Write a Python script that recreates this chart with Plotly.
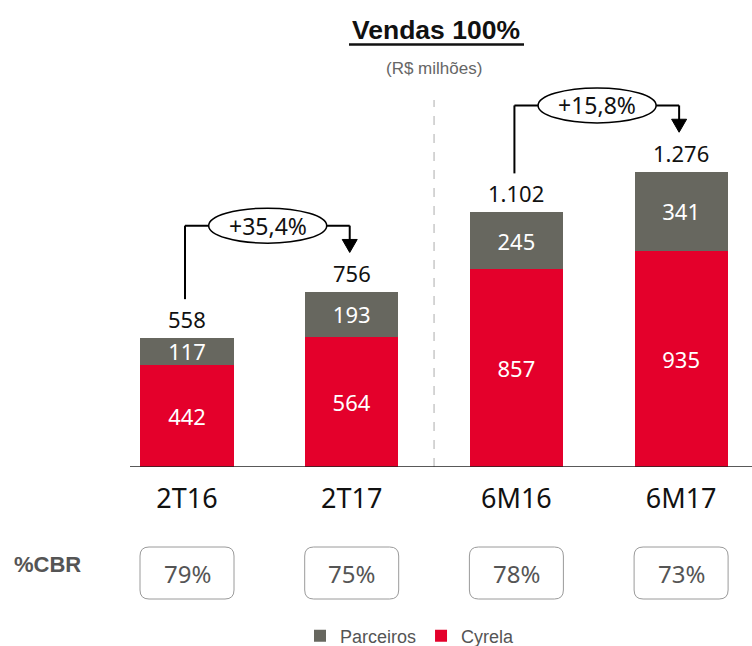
import plotly.graph_objects as go

categories = ["2T16", "2T17", "6M16", "6M17"]
cyrela = [442, 564, 857, 935]
parceiros = [117, 193, 245, 341]
totals = [558, 756, 1102, 1276]
cbr = ["79%", "75%", "78%", "73%"]
growth_pairs = [(0, 1), (2, 3)]
growth_labels = ["+35,4%", "+15,8%"]

RED = "#E4002B"
GRAY = "#67675F"
NUM_FONT = "Noto Sans, DejaVu Sans Condensed, sans-serif"
ARIAL = "Liberation Sans, Arial, sans-serif"

W, H = 752, 646
x_dom0 = 130 / W
y_dom0 = 179 / H
YMAX = 2020
px_per_unit = (H - 179) / YMAX          # pixels per value unit
cat_px = 164.7                          # pixels per category step

def fmt(v):
    return f"{v:,}".replace(",", ".")

idx = list(range(len(categories)))

fig = go.Figure()
fig.add_trace(go.Bar(
    x=idx, y=cyrela, name="Cyrela", marker=dict(color=RED, line=dict(width=0)),
    width=0.565, text=[str(v) for v in cyrela], textposition="inside",
    insidetextanchor="middle", constraintext="none",
    textfont=dict(color="white", size=22, family=NUM_FONT), hoverinfo="skip"))
fig.add_trace(go.Bar(
    x=idx, y=parceiros, name="Parceiros", marker=dict(color=GRAY, line=dict(width=0)),
    width=0.565, text=[str(v) for v in parceiros], textposition="inside",
    insidetextanchor="middle", constraintext="none",
    textfont=dict(color="white", size=22, family=NUM_FONT), hoverinfo="skip"))

annotations = []
shapes = []

# totals above bars
for i, t in zip(idx, totals):
    annotations.append(dict(x=i, y=t, xref="x", yref="y", text=fmt(t), showarrow=False,
                            xanchor="center", yanchor="bottom", yshift=2,
                            font=dict(size=22, color="#111111", family=NUM_FONT)))

# growth connectors
for (a, b), lab in zip(growth_pairs, growth_labels):
    top = max(totals[a], totals[b]) + 288
    left_bottom = totals[a] + 168
    tip = totals[b] + 172
    head_h = 13 / px_per_unit
    head_w = 7.5 / cat_px
    line = dict(color="black", width=2)
    ax_ = a - 0.012
    bx = b - 0.012
    shapes.append(dict(type="line", xref="x", yref="y", x0=ax_, x1=ax_,
                       y0=left_bottom, y1=top, line=line, layer="above"))
    shapes.append(dict(type="line", xref="x", yref="y", x0=ax_, x1=bx,
                       y0=top, y1=top, line=line, layer="above"))
    shapes.append(dict(type="line", xref="x", yref="y", x0=bx, x1=bx,
                       y0=top, y1=tip + head_h * 0.5, line=line, layer="above"))
    shapes.append(dict(type="path", xref="x", yref="y",
                       path=f"M{bx - head_w},{tip + head_h} L{bx + head_w},{tip + head_h} L{bx},{tip} Z",
                       fillcolor="black", line=dict(color="black", width=1), layer="above"))
    cx = (a + b) / 2 - 0.01
    ew = 118 / cat_px / 2
    eh = 35 / px_per_unit / 2
    shapes.append(dict(type="circle", xref="x", yref="y", x0=cx - ew, x1=cx + ew,
                       y0=top - eh, y1=top + eh, fillcolor="white",
                       line=dict(color="black", width=1.5), layer="above"))
    annotations.append(dict(x=cx, y=top, xref="x", yref="y", text=lab, showarrow=False,
                            xanchor="center", yanchor="middle",
                            font=dict(size=23, color="#111111", family=NUM_FONT)))

# dashed separator
shapes.append(dict(type="line", xref="x", yref="y", x0=1.5, x1=1.5, y0=0,
                   y1=(467 - 100) / px_per_unit,
                   line=dict(color="#BBBBBB", width=1.2, dash="dash"), layer="below"))

# title and subtitle
annotations.append(dict(x=436 / W, y=1 - 30 / H, xref="paper", yref="paper",
                        text="<b>Vendas 100%</b>", showarrow=False,
                        xanchor="center", yanchor="middle",
                        font=dict(size=26.5, color="#111111", family=ARIAL)))
shapes.append(dict(type="line", xref="paper", yref="paper", x0=349 / W, x1=524 / W,
                   y0=1 - 44.5 / H, y1=1 - 44.5 / H, line=dict(color="#111111", width=2.5)))
annotations.append(dict(x=434 / W, y=1 - 68 / H, xref="paper", yref="paper",
                        text="(R$ milhões)", showarrow=False,
                        xanchor="center", yanchor="middle",
                        font=dict(size=17, color="#666666", family=ARIAL)))

# %CBR row
annotations.append(dict(x=48 / W, y=1 - 564 / H, xref="paper", yref="paper",
                        text="<b>%CBR</b>", showarrow=False,
                        xanchor="center", yanchor="middle",
                        font=dict(size=22, color="#555555", family=ARIAL)))
rx = 9 / cat_px
ry = 9 / H
bw = 94 / cat_px / 2
yb0 = 1 - 599 / H
yb1 = 1 - 547 / H
for i, c in zip(idx, cbr):
    x0, x1 = i - bw, i + bw
    p = (f"M{x0 + rx},{yb0} L{x1 - rx},{yb0} Q{x1},{yb0} {x1},{yb0 + ry} "
         f"L{x1},{yb1 - ry} Q{x1},{yb1} {x1 - rx},{yb1} L{x0 + rx},{yb1} "
         f"Q{x0},{yb1} {x0},{yb1 - ry} L{x0},{yb0 + ry} Q{x0},{yb0} {x0 + rx},{yb0} Z")
    shapes.append(dict(type="path", xref="x", yref="paper", path=p,
                       line=dict(color="#9A9A9A", width=1), fillcolor="rgba(0,0,0,0)"))
    annotations.append(dict(x=i, y=(yb0 + yb1) / 2, xref="x", yref="paper", text=c,
                            showarrow=False, xanchor="center", yanchor="middle",
                            font=dict(size=24, color="#555555", family=NUM_FONT)))

fig.update_layout(
    width=W, height=H, barmode="stack",
    margin=dict(l=0, r=0, t=0, b=0, autoexpand=False),
    paper_bgcolor="white", plot_bgcolor="white",
    showlegend=True,
    legend=dict(orientation="h", x=300 / W, xanchor="left", y=1 - 636 / H, yanchor="middle",
                traceorder="reversed", font=dict(size=18, color="#555555", family=ARIAL),
                itemwidth=30, bgcolor="rgba(0,0,0,0)"),
    xaxis=dict(domain=[x_dom0, 1], range=[(130 - 187) / cat_px, (752 - 187) / cat_px],
               tickvals=idx, ticktext=categories, showgrid=False, zeroline=False,
               showline=False, ticks="outside", ticklen=8, tickcolor="rgba(0,0,0,0)",
               automargin=False,
               tickfont=dict(size=27, color="#111111", family=NUM_FONT), fixedrange=True),
    yaxis=dict(domain=[y_dom0, 1], range=[0, YMAX], visible=False, fixedrange=True,
               automargin=False),
    shapes=shapes, annotations=annotations,
)
# baseline
fig.add_shape(type="line", xref="paper", yref="y", x0=x_dom0, x1=1, y0=0, y1=0,
              line=dict(color="#222222", width=1.5), layer="above")

fig.write_html("out.html", config={"displayModeBar": False},
               post_script="document.body.style.margin='0';document.body.style.overflow='hidden';")
